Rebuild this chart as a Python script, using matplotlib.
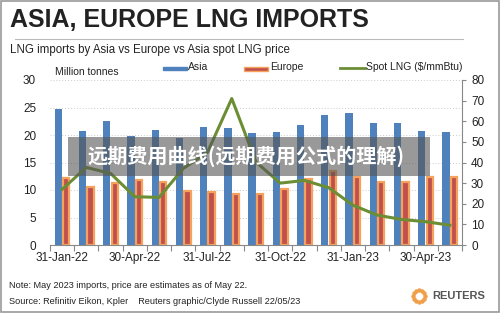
import numpy as np
import matplotlib.pyplot as plt
from matplotlib.patches import Rectangle
from matplotlib.lines import Line2D

plt.rcParams['font.family'] = ['Liberation Sans', 'DejaVu Sans']

# data (Jan-22 .. May-23)
months = ['31-Jan-22', '28-Feb-22', '31-Mar-22', '30-Apr-22', '31-May-22', '30-Jun-22',
          '31-Jul-22', '31-Aug-22', '30-Sep-22', '31-Oct-22', '30-Nov-22', '31-Dec-22',
          '31-Jan-23', '28-Feb-23', '31-Mar-23', '30-Apr-23', '31-May-23']
asia = [24.8, 20.8, 22.6, 19.8, 21.0, 19.5, 21.4, 21.2, 20.3, 20.6, 21.8, 23.7,
        24.0, 22.2, 22.2, 20.8, 20.6]
europe = [12.1, 10.5, 11.2, 11.9, 11.4, 9.9, 9.6, 9.3, 9.2, 10.2, 12.0, 13.5,
          12.4, 11.5, 11.5, 12.4, 12.4]
spot = [27.0, 37.6, 34.7, 23.4, 23.1, 37.1, 45.0, 71.0, 40.2, 30.0, 31.3, 27.8,
        19.3, 14.5, 12.4, 11.3, 9.6]
label_idx = [0, 3, 6, 9, 12, 15]

blue = '#4f81bd'
eu_fill = '#c0504d'
eu_edge = '#f5a25d'
green = '#6b8e35'
gray = '#888888'

fig = plt.figure(figsize=(5, 3.13), dpi=100)
W, H = 500, 313

def fx(px):
    return px / W

def fy(py):
    return 1 - py / H

ax = fig.add_axes([fx(50), fy(245), fx(462) - fx(50), fy(80) - fy(245)])
x = np.arange(len(months))
ax.bar(x - 0.16, asia, width=0.3, color=blue, zorder=2)
ax.bar(x + 0.17, europe, width=0.26, color=eu_fill, edgecolor=eu_edge, linewidth=1.6, zorder=2)
ax.set_ylim(0, 30)
ax.set_xlim(-0.5, len(months) - 0.5)
ax.set_yticks(range(0, 31, 5))
ax.grid(axis='y', color='#cccccc', linestyle=(0, (1, 2)), linewidth=0.7, zorder=0)
ax.set_axisbelow(True)
ax.tick_params(axis='y', length=0, labelsize=8.5, pad=10, colors='#222222')
for s in ['top', 'left', 'right']:
    ax.spines[s].set_visible(False)
ax.spines['bottom'].set_color(gray)
ax.set_xticks(np.arange(-0.5, len(months), 1))
ax.set_xticklabels([])
ax.tick_params(axis='x', which='major', length=4, color=gray, direction='out')
ax.set_xticks(x[label_idx], minor=True)
ax.set_xticklabels([months[i] for i in label_idx], minor=True)
ax.tick_params(axis='x', which='minor', length=0, labelsize=8.5, pad=5, colors='#222222')

ax2 = ax.twinx()
ax2.plot(x, spot, color=green, linewidth=2.2, zorder=3)
ax2.set_ylim(0, 80)
ax2.set_yticks(range(0, 81, 10))
ax2.tick_params(axis='y', length=3, labelsize=8.5, colors='#222222', direction='out')
ax2.tick_params(axis='y', color=gray)
for s in ['top', 'left', 'bottom']:
    ax2.spines[s].set_visible(False)
ax2.spines['right'].set_color(gray)

ax.text(fx(55), fy(72), 'Million tonnes', transform=fig.transFigure, fontsize=7.5,
        va='center', ha='left', color='#222222')

# title block
fig.text(fx(10), fy(20), 'ASIA, EUROPE LNG IMPORTS', fontsize=18, fontweight='bold',
         va='center', ha='left', color='#222222')
fig.add_artist(Line2D([fx(15), fx(463)], [fy(39), fy(39)], color='#bbbbbb', linewidth=0.8))
fig.text(fx(10), fy(50), 'LNG imports by Asia vs Europe vs Asia spot LNG price', fontsize=8.3,
         va='center', ha='left', color='#222222')

# legend
fig.add_artist(Rectangle((fx(163), fy(70)), fx(24), 3 / H, color=blue))
fig.text(fx(188), fy(67.5), 'Asia', fontsize=7.5, va='center', ha='left', color='#222222')
fig.add_artist(Rectangle((fx(244), fy(70.5)), fx(24), 4 / H, facecolor=eu_fill,
                         edgecolor=eu_edge, linewidth=1))
fig.text(fx(270), fy(67.5), 'Europe', fontsize=7.5, va='center', ha='left', color='#222222')
fig.add_artist(Line2D([fx(340), fx(365)], [fy(68), fy(68)], color=green, linewidth=2))
fig.text(fx(366), fy(67.5), 'Spot LNG ($/mmBtu)', fontsize=7.5, va='center', ha='left',
         color='#222222')

# watermark banner
fig.add_artist(Rectangle((fx(68), fy(176)), fx(430) - fx(68), 39 / H, facecolor='#555555',
                         alpha=0.6, edgecolor='none', zorder=9))
fig.text(fx(246), fy(156), '远期费用曲线(远期费用公式的理解)', fontsize=14.5, fontweight='bold',
         color='white', ha='center', va='center',
         family=['Noto Sans CJK SC', 'DejaVu Sans'], zorder=10)

# footer
fig.text(fx(9), fy(286), 'Note: May 2023 imports, price are estimates as of May 22.',
         fontsize=6.6, va='center', ha='left', color='#222222')
fig.text(fx(9), fy(302), 'Source: Refinitiv Eikon, Kpler    Reuters graphic/Clyde Russell 22/05/23',
         fontsize=6.6, va='center', ha='left', color='#222222')
theta = np.linspace(0, 2 * np.pi, 12, endpoint=False)
fig.add_artist(Line2D(fx(419) + 6 / W * np.cos(theta), fy(296) + 6 / H * np.sin(theta),
                      linestyle='none', marker='o', markersize=2.2, color='#f0a04b'))
fig.text(fx(432), fy(296), 'REUTERS', fontsize=8, fontweight='bold', va='center', ha='left',
         color='#555555')

# outer frame
fig.add_artist(Rectangle((0.001, 0.002), 0.997, 0.995, fill=False, edgecolor='#999999',
                         linewidth=1.2))

fig.savefig('out.png', dpi=100)
